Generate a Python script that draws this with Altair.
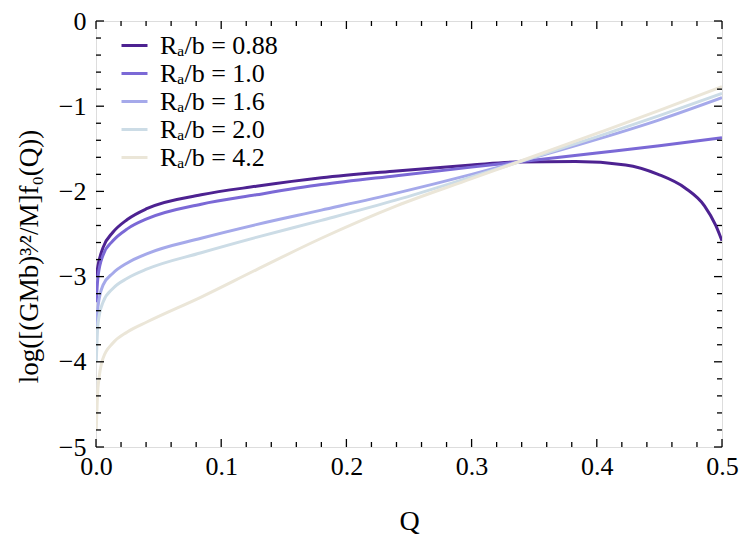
import altair as alt
import pandas as pd

# ---- data ----
labels = ["Rₐ/b = 0.88", "Rₐ/b = 1.0", "Rₐ/b = 1.6", "Rₐ/b = 2.0", "Rₐ/b = 4.2"]
colors = ["#4d2291", "#7b69d6", "#a5a9ea", "#ccdce6", "#ebe6d8"]

q088 = [0.0002, 0.0016, 0.0056, 0.0135, 0.025, 0.041, 0.084, 0.128, 0.18, 0.24,
        0.30, 0.337, 0.383, 0.423, 0.449, 0.4705, 0.486, 0.495, 0.5]
y088 = [-3.00, -2.87, -2.66, -2.48, -2.33, -2.20, -2.04, -1.94, -1.84, -1.76,
        -1.69, -1.655, -1.65, -1.69, -1.80, -1.96, -2.17, -2.40, -2.58]

q_rest = [0.0002, 0.0016, 0.0056, 0.0135, 0.025, 0.041, 0.084, 0.128, 0.18, 0.24,
          0.30, 0.337, 0.40, 0.45, 0.5]
y10 = [-3.30, -3.00, -2.75, -2.58, -2.44, -2.32, -2.15, -2.04, -1.92, -1.815,
       -1.715, -1.655, -1.55, -1.465, -1.37]
y16 = [-3.75, -3.35, -3.10, -2.96, -2.84, -2.73, -2.55, -2.39, -2.22, -2.02,
       -1.80, -1.655, -1.39, -1.16, -0.90]
y20 = [-4.00, -3.55, -3.30, -3.14, -3.02, -2.91, -2.72, -2.54, -2.34, -2.10,
       -1.83, -1.66, -1.36, -1.11, -0.85]
y42 = [-4.80, -4.30, -3.96, -3.78, -3.65, -3.53, -3.24, -2.92, -2.55, -2.17,
       -1.85, -1.655, -1.32, -1.05, -0.77]

series = [(q088, y088), (q_rest, y10), (q_rest, y16), (q_rest, y20), (q_rest, y42)]

x_major = [0.0, 0.1, 0.2, 0.3, 0.4, 0.5]
x_minor = [0.02, 0.04, 0.06, 0.08, 0.12, 0.14, 0.16, 0.18, 0.22, 0.24, 0.26, 0.28,
           0.32, 0.34, 0.36, 0.38, 0.42, 0.44, 0.46, 0.48]
y_major = [-5, -4, -3, -2, -1, 0]
y_minor = [-4.8, -4.6, -4.4, -4.2, -3.8, -3.6, -3.4, -3.2, -2.8, -2.6, -2.4, -2.2,
           -1.8, -1.6, -1.4, -1.2, -0.8, -0.6, -0.4, -0.2]

W, H = 626, 426
FONT = "Liberation Serif, DejaVu Serif, serif"
YTITLE = "log([(GMb)³⁄²/M]f₀(Q))"

rows = []
for lab, (qs, ys) in zip(labels, series):
    for i, (a, b) in enumerate(zip(qs, ys)):
        rows.append({"Q": a, "v": b, "series": lab, "k": i})
df = pd.DataFrame(rows)

xs = alt.Scale(domain=[0, 0.5], nice=False, zero=False)
ys_ = alt.Scale(domain=[-5, 0], nice=False, zero=False)

xaxis = alt.Axis(values=x_major, format=".1f", ticks=False, tickSize=0, domain=False,
                 grid=False, labelFlush=False, labelFont=FONT, labelFontSize=26,
                 labelPadding=6, labelColor="black", title="Q", titleFont=FONT,
                 titleFontSize=28, titleFontWeight="normal", titlePadding=28,
                 titleColor="black")
yaxis = alt.Axis(values=y_major, format="d", ticks=False, tickSize=0, domain=False,
                 grid=False, labelFlush=False, labelFont=FONT, labelFontSize=26,
                 labelPadding=10, labelColor="black", title=YTITLE, titleFont=FONT,
                 titleFontSize=27, titleFontWeight="normal", titleColor="black",
                 titleAngle=270, titleX=-67, titleY=235, titleAlign="center",
                 titleBaseline="middle")

X = lambda f: alt.X(f, scale=xs, axis=xaxis, title="Q")
Y = lambda f: alt.Y(f, scale=ys_, axis=yaxis, title=YTITLE)

lines = alt.Chart(df).mark_line(strokeWidth=3, interpolate="monotone", clip=True).encode(
    x=X("Q:Q"),
    y=Y("v:Q"),
    color=alt.Color("series:N", scale=alt.Scale(domain=labels, range=colors),
                    sort=labels,
                    legend=alt.Legend(title=None, orient="none", legendX=24, legendY=10,
                                      symbolType="stroke", symbolSize=676,
                                      symbolStrokeWidth=3, labelFont=FONT,
                                      labelFontSize=26, labelColor="black",
                                      rowPadding=0, padding=0, labelOffset=11)),
    order=alt.Order("k:Q"),
    detail="series:N",
)

def xticks(vals, length):
    d = pd.DataFrame({"Q": vals})
    bot = alt.Chart(d).mark_rule(color="black", strokeWidth=1.3).encode(
        x=X("Q:Q"), y=alt.value(H), y2=alt.value(H - length))
    top = alt.Chart(d).mark_rule(color="black", strokeWidth=1.3).encode(
        x=X("Q:Q"), y=alt.value(0), y2=alt.value(length))
    return [bot, top]

def yticks(vals, length):
    d = pd.DataFrame({"v": vals})
    lft = alt.Chart(d).mark_rule(color="black", strokeWidth=1.3).encode(
        y=Y("v:Q"), x=alt.value(0), x2=alt.value(length))
    rgt = alt.Chart(d).mark_rule(color="black", strokeWidth=1.3).encode(
        y=Y("v:Q"), x=alt.value(W), x2=alt.value(W - length))
    return [lft, rgt]

layers = [lines] + xticks(x_major, 8) + xticks(x_minor, 5) + yticks(y_major, 8) + yticks(y_minor, 5)

chart = alt.layer(*layers).properties(
    width=W, height=H,
    autosize=alt.AutoSizeParams(type="none"),
    padding={"left": 88, "top": 13, "right": 17, "bottom": 90},
).configure_view(stroke="black", strokeWidth=1.5).configure(background="white")

chart.save("out.html", embed_options={"renderer": "svg", "actions": False})
